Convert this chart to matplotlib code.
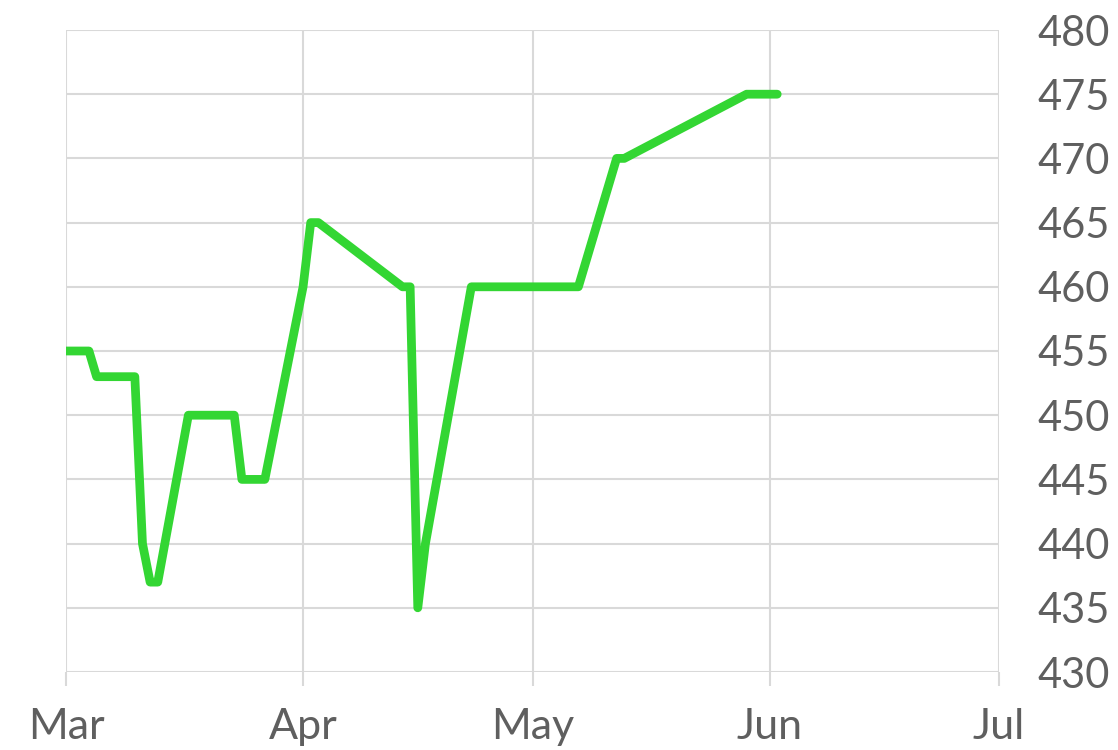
import pandas as pd
import matplotlib.pyplot as plt
import matplotlib.dates as mdates

# price series (daily closes where it changed)
dates = ['2024-03-01', '2024-03-04', '2024-03-05', '2024-03-10', '2024-03-11',
         '2024-03-12', '2024-03-13', '2024-03-17', '2024-03-23', '2024-03-24',
         '2024-03-27', '2024-04-01', '2024-04-02', '2024-04-03', '2024-04-14',
         '2024-04-15', '2024-04-16', '2024-04-17', '2024-04-23', '2024-05-07',
         '2024-05-12', '2024-05-13', '2024-05-29', '2024-06-02']
values = [455, 455, 453, 453, 440, 437, 437, 450, 450, 445, 445, 460, 465, 465,
          460, 460, 435, 440, 460, 460, 470, 470, 475, 475]
month_ticks = ['2024-03-01', '2024-04-01', '2024-05-01', '2024-06-01', '2024-07-01']
y_ticks = [430, 435, 440, 445, 450, 455, 460, 465, 470, 475, 480]

df = pd.DataFrame({'date': pd.to_datetime(dates), 'value': values})
xt = pd.to_datetime(month_ticks)

plt.rcParams['font.family'] = ['Lato', 'DejaVu Sans']
fig = plt.figure(figsize=(11.18, 7.5), dpi=100)
ax = fig.add_axes([66 / 1118, 1 - 672 / 750, (999 - 66) / 1118, (672 - 30) / 750])

ax.plot(df['date'], df['value'], color='#33d633', lw=6.3,
        solid_joinstyle='round', solid_capstyle='round', zorder=3)

ax.set_xlim(xt[0], xt[-1])
ax.set_ylim(430, 480)
ax.set_xticks(xt)
ax.xaxis.set_major_formatter(mdates.DateFormatter('%b'))
ax.set_yticks(y_ticks)
ax.yaxis.tick_right()

ax.grid(True, color='#d9d9d9', lw=1.5)
for s in ax.spines.values():
    s.set_visible(False)

ax.tick_params(axis='x', length=10, width=1.5, color='#d9d9d9', pad=16,
               labelsize=31, labelcolor='#5f5f5f')
ax.tick_params(axis='y', length=0, pad=28, labelsize=30, labelcolor='#5f5f5f')

fig.savefig('out.png', dpi=100)
